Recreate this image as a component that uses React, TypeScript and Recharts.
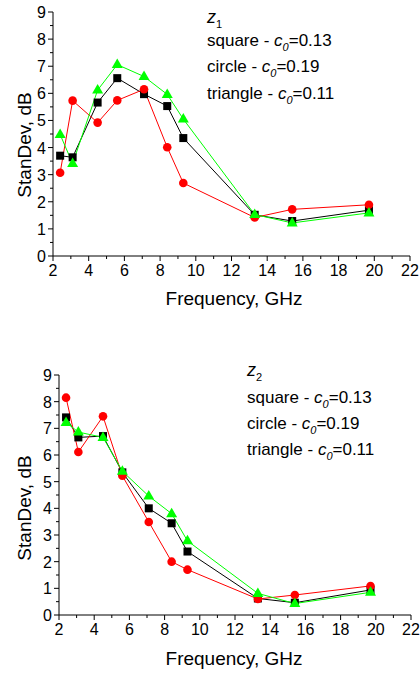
import React from 'react';
import { LineChart, Line, XAxis, YAxis } from 'recharts';

const freq = [2.4, 3.1, 4.5, 5.6, 7.1, 8.4, 9.3, 13.3, 15.4, 19.7];

const z1Square = [3.7, 3.64, 5.66, 6.56, 5.97, 5.53, 4.35, 1.52, 1.29, 1.69];
const z1Circle = [3.07, 5.73, 4.92, 5.74, 6.15, 4.01, 2.69, 1.42, 1.72, 1.89];
const z1Triangle = [4.48, 3.41, 6.12, 7.06, 6.62, 5.96, 5.05, 1.53, 1.22, 1.59];

const z2Square = [7.41, 6.66, 6.71, 5.35, 4.0, 3.44, 2.38, 0.62, 0.46, 0.94];
const z2Circle = [8.15, 6.11, 7.45, 5.22, 3.49, 2.0, 1.7, 0.6, 0.75, 1.09];
const z2Triangle = [7.22, 6.86, 6.66, 5.39, 4.46, 3.8, 2.78, 0.81, 0.43, 0.85];

const xTicks = [2, 3, 4, 5, 6, 7, 8, 9, 10, 11, 12, 13, 14, 15, 16, 17, 18, 19, 20, 21, 22];
const yTicks = [0, 0.5, 1, 1.5, 2, 2.5, 3, 3.5, 4, 4.5, 5, 5.5, 6, 6.5, 7, 7.5, 8, 8.5, 9];

const FONT = '"Liberation Sans", Arial, sans-serif';

function buildRows(sq: number[], ci: number[], tr: number[]) {
  return freq.map((f, i) => ({ f, square: sq[i], circle: ci[i], triangle: tr[i] }));
}

const XTick = (props: any) => {
  const { x, y, payload } = props;
  const major = payload.value % 2 === 0;
  return (
    <g>
      <line x1={x} y1={y} x2={x} y2={y + (major ? 5 : 3)} stroke="#000" />
      {major && (
        <text x={x} y={y + 20} textAnchor="middle" fontSize={16} fontFamily={FONT} fill="#000">
          {payload.value}
        </text>
      )}
    </g>
  );
};

const YTick = (props: any) => {
  const { x, y, payload } = props;
  const major = Number.isInteger(payload.value);
  return (
    <g>
      <line x1={x} y1={y} x2={x - (major ? 5 : 3)} y2={y} stroke="#000" />
      {major && (
        <text x={x - 7} y={y + 6} textAnchor="end" fontSize={16} fontFamily={FONT} fill="#000">
          {payload.value}
        </text>
      )}
    </g>
  );
};

const squareDot = (p: any) => (
  <rect key={'s' + p.index} x={p.cx - 4} y={p.cy - 4} width={8} height={8} fill="#000" />
);
const circleDot = (p: any) => (
  <circle key={'c' + p.index} cx={p.cx} cy={p.cy} r={4.3} fill="#ff0000" />
);
const triangleDot = (p: any) => (
  <polygon
    key={'t' + p.index}
    points={`${p.cx - 5.5},${p.cy + 3.5} ${p.cx + 5.5},${p.cy + 3.5} ${p.cx},${p.cy - 6}`}
    fill="#00ff00"
  />
);

function Panel(props: { rows: any[]; height: number; margin: any; sub: string; tx: number; ty: number[]; labelY: number; labelX: number; freqY: number }) {
  const { rows, height, margin, sub, tx, ty, labelY, labelX, freqY } = props;
  const lines = [
    ['square - ', '0.13'],
    ['circle - ', '0.19'],
    ['triangle - ', '0.11'],
  ];
  return (
    <div style={{ position: 'relative', width: 420, height }}>
      <LineChart width={420} height={height} data={rows} margin={margin}>
        <XAxis
          dataKey="f"
          type="number"
          domain={[2, 22]}
          ticks={xTicks}
          interval={0}
          tickSize={0}
          tickMargin={0}
          tickLine={false}
          tick={<XTick />}
          height={30}
          axisLine={{ stroke: '#000' }}
          allowDataOverflow
        />
        <YAxis
          type="number"
          domain={[0, 9]}
          ticks={yTicks}
          interval={0}
          tickSize={0}
          tickMargin={0}
          tickLine={false}
          tick={<YTick />}
          width={40}
          axisLine={{ stroke: '#000' }}
          allowDataOverflow
        />
        <Line dataKey="square" stroke="#000" strokeWidth={1} dot={squareDot} isAnimationActive={false} />
        <Line dataKey="circle" stroke="#ff0000" strokeWidth={1} dot={circleDot} isAnimationActive={false} />
        <Line dataKey="triangle" stroke="#00ff00" strokeWidth={1} dot={triangleDot} isAnimationActive={false} />
      </LineChart>
      <svg width={420} height={height} style={{ position: 'absolute', left: 0, top: 0, pointerEvents: 'none' }}>
        <g fontFamily={FONT} fill="#000">
          <text x={tx} y={ty[0]} fontSize={18} fontStyle="italic">
            z<tspan fontSize={11} fontStyle="normal" dy={5}>{sub}</tspan>
          </text>
          {lines.map((l, i) => (
            <text key={i} x={tx} y={ty[i + 1]} fontSize={17}>
              {l[0]}
              <tspan fontStyle="italic">c</tspan>
              <tspan fontStyle="italic" fontSize={11} dy={5}>0</tspan>
              <tspan dy={-5}>={l[1]}</tspan>
            </text>
          ))}
          <text
            x={labelX}
            y={labelY}
            fontSize={19}
            textAnchor="middle"
            transform={`rotate(-90 ${labelX} ${labelY})`}
          >
            StanDev, dB
          </text>
          <text x={234} y={freqY} fontSize={19} textAnchor="middle">
            Frequency, GHz
          </text>
        </g>
      </svg>
    </div>
  );
}

export default function App() {
  return (
    <div style={{ position: 'absolute', left: 0, top: 0, width: 420, height: 675, background: '#fff' }}>
      <Panel
        rows={buildRows(z1Square, z1Circle, z1Triangle)}
        height={330}
        margin={{ top: 12, right: 10, bottom: 44, left: 13 }}
        sub="1"
        tx={207}
        ty={[23, 46, 72, 99]}
        labelX={31}
        labelY={145}
        freqY={305}
      />
      <Panel
        rows={buildRows(z2Square, z2Circle, z2Triangle)}
        height={345}
        margin={{ top: 45, right: 9, bottom: 30, left: 19 }}
        sub="2"
        tx={247}
        ty={[46, 73, 99, 125]}
        labelX={31}
        labelY={178}
        freqY={335}
      />
    </div>
  );
}
